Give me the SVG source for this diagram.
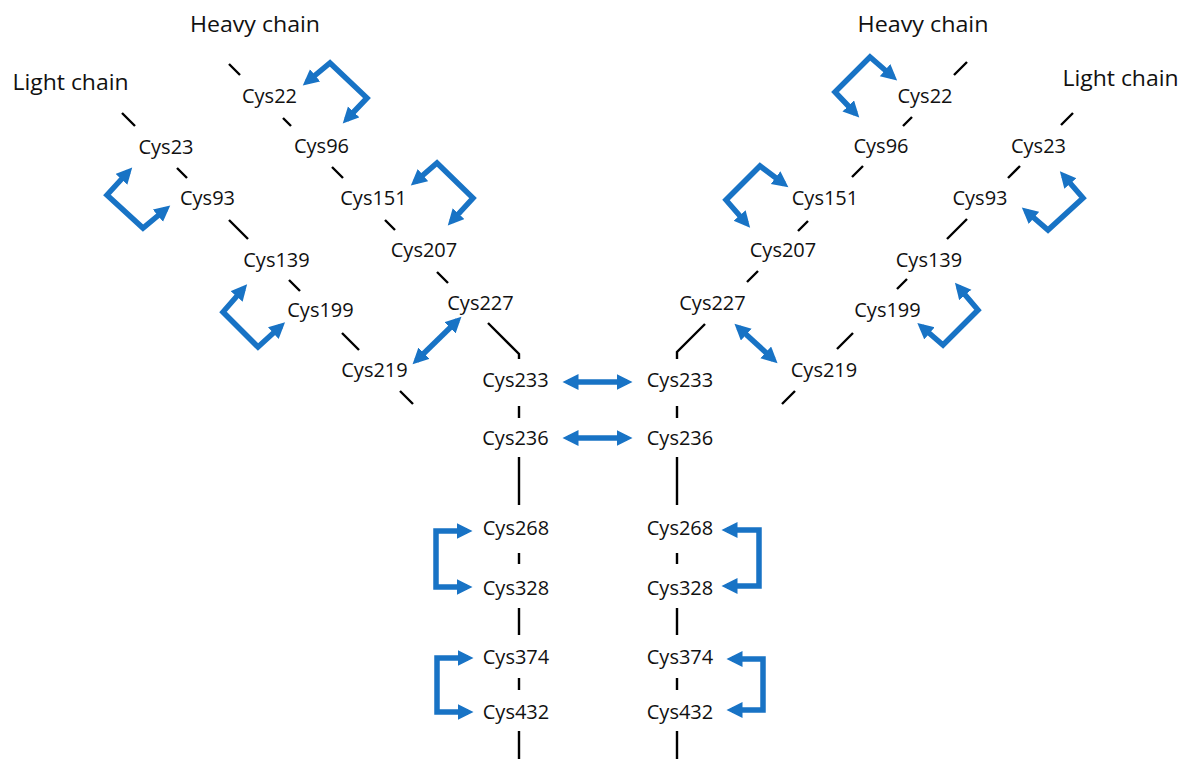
<svg xmlns="http://www.w3.org/2000/svg" width="1183" height="759" viewBox="0 0 1183 759">
  <style>
    .lbl { font-family: "Open Sans", "Liberation Sans", sans-serif; font-size: 20px; fill: #111; text-anchor: middle; }
    .hdr { font-family: "Open Sans", "Liberation Sans", sans-serif; font-size: 21px; fill: #111; text-anchor: middle; }
    .chain { stroke: #000; stroke-width: 2.4; fill: none; }
    .bond { stroke: #1873c5; stroke-width: 5.5; fill: none; stroke-linejoin: miter; marker-start: url(#ah); marker-end: url(#ah); }
  </style>
  <defs>
    <marker id="ah" markerUnits="userSpaceOnUse" markerWidth="17" markerHeight="17" refX="10.5" refY="8" orient="auto-start-reverse" viewBox="0 0 17 17">
      <path d="M0,0 L16,8 L0,16 z" fill="#1873c5"/>
    </marker>
  </defs>
  <rect width="1183" height="759" fill="#fff"/>

  <g id="connectors">
    <!-- left heavy chain -->
    <path class="chain" d="M229,64 L240,75 M283,118 L291,126 M332,167 L343,178 M385,220 L395,230 M437,272 L448,283 M488,323 L519,354 L519,359"/>
    <!-- left light chain -->
    <path class="chain" d="M122,113 L135,126 M177,168 L187,178 M229,220 L248,239 M289,280 L300,291 M342,333 L359,350 M400,391 L413,404"/>
    <!-- left vertical -->
    <path class="chain" d="M519,406 L519,418 M519,457 L519,505 M519,553 L519,564 M519,608 L519,635 M519,678 L519,690 M519,731 L519,759"/>
    <!-- right heavy chain -->
    <path class="chain" d="M954,75 L967,62 M903,126 L912,117 M852,177 L863,166 M798,231 L808,221 M747,282 L758,271 M705,324 L677,352 L677,359"/>
    <!-- right light chain -->
    <path class="chain" d="M1061,125 L1073,113 M1008,178 L1020,166 M947,239 L967,219 M897,289 L907,279 M837,349 L853,333 M782,404 L795,391"/>
    <!-- right vertical -->
    <path class="chain" d="M677,406 L677,418 M677,457 L677,505 M677,553 L677,564 M677,608 L677,635 M677,678 L677,690 M677,731 L677,759"/>

    <!-- disulfide bonds left -->
    <path class="bond" d="M307,82 L330,63 L367,98 L346.5,119.5"/>
    <path class="bond" d="M128.5,171.5 L107,195 L143,228 L166,209"/>
    <path class="bond" d="M415,182 L437,163 L473,198 L451.5,221.5"/>
    <path class="bond" d="M243.5,288.5 L223,312 L258,347 L281,326"/>
    <path class="bond" d="M416.5,360.5 L457.5,320.5"/>
    <!-- inter-chain -->
    <path class="bond" d="M568,382 L627,382"/>
    <path class="bond" d="M568,438 L627,438"/>
    <!-- Fc left -->
    <path class="bond" d="M467,531 L436,531 L436,587 L467,587"/>
    <path class="bond" d="M468,658 L437,658 L437,712 L468,712"/>
    <!-- Fc right -->
    <path class="bond" d="M727,530 L759,530 L759,586 L727,586"/>
    <path class="bond" d="M732,659 L763,659 L763,710 L732,710"/>
    <!-- disulfide bonds right -->
    <path class="bond" d="M893,77 L870,57 L835,92 L855.5,113.5"/>
    <path class="bond" d="M784,184 L760,166 L726,200 L746.5,223.5"/>
    <path class="bond" d="M1063.5,175.5 L1083,198 L1048,230 L1026,211"/>
    <path class="bond" d="M958.5,287 L978,310 L943,345 L921.5,326.5"/>
    <path class="bond" d="M738.5,327.5 L773.5,359.5"/>
  </g>

  <g id="hc-left"><text class="hdr" x="255" y="32" textLength="130" lengthAdjust="spacingAndGlyphs">Heavy chain</text></g>
  <g id="lc-left"><text class="hdr" x="70.5" y="90" textLength="116" lengthAdjust="spacingAndGlyphs">Light chain</text></g>
  <g id="hc-right"><text class="hdr" x="923" y="32" textLength="131" lengthAdjust="spacingAndGlyphs">Heavy chain</text></g>
  <g id="lc-right"><text class="hdr" x="1120.5" y="86" textLength="116" lengthAdjust="spacingAndGlyphs">Light chain</text></g>

  <g id="L-cys22"><text class="lbl" x="269.5" y="103">Cys22</text></g>
  <g id="L-cys96"><text class="lbl" x="321.5" y="153">Cys96</text></g>
  <g id="L-cys23"><text class="lbl" x="166" y="154">Cys23</text></g>
  <g id="L-cys93"><text class="lbl" x="207.5" y="205">Cys93</text></g>
  <g id="L-cys151"><text class="lbl" x="373.5" y="205">Cys151</text></g>
  <g id="L-cys207"><text class="lbl" x="424" y="257">Cys207</text></g>
  <g id="L-cys139"><text class="lbl" x="276.5" y="267">Cys139</text></g>
  <g id="L-cys199"><text class="lbl" x="320.5" y="317">Cys199</text></g>
  <g id="L-cys227"><text class="lbl" x="480.5" y="310">Cys227</text></g>
  <g id="L-cys219"><text class="lbl" x="374.5" y="377">Cys219</text></g>
  <g id="L-cys233"><text class="lbl" x="515.5" y="387">Cys233</text></g>
  <g id="L-cys236"><text class="lbl" x="515.5" y="445">Cys236</text></g>
  <g id="L-cys268"><text class="lbl" x="516" y="535">Cys268</text></g>
  <g id="L-cys328"><text class="lbl" x="516" y="595">Cys328</text></g>
  <g id="L-cys374"><text class="lbl" x="516" y="664">Cys374</text></g>
  <g id="L-cys432"><text class="lbl" x="516" y="719">Cys432</text></g>

  <g id="R-cys22"><text class="lbl" x="925" y="103">Cys22</text></g>
  <g id="R-cys96"><text class="lbl" x="881" y="153">Cys96</text></g>
  <g id="R-cys23"><text class="lbl" x="1038.5" y="153">Cys23</text></g>
  <g id="R-cys93"><text class="lbl" x="980" y="205">Cys93</text></g>
  <g id="R-cys151"><text class="lbl" x="825" y="205">Cys151</text></g>
  <g id="R-cys207"><text class="lbl" x="783" y="257">Cys207</text></g>
  <g id="R-cys139"><text class="lbl" x="929" y="267">Cys139</text></g>
  <g id="R-cys199"><text class="lbl" x="887.5" y="317">Cys199</text></g>
  <g id="R-cys227"><text class="lbl" x="712.5" y="310">Cys227</text></g>
  <g id="R-cys219"><text class="lbl" x="824" y="377">Cys219</text></g>
  <g id="R-cys233"><text class="lbl" x="680" y="387">Cys233</text></g>
  <g id="R-cys236"><text class="lbl" x="680" y="445">Cys236</text></g>
  <g id="R-cys268"><text class="lbl" x="680" y="535">Cys268</text></g>
  <g id="R-cys328"><text class="lbl" x="680" y="595">Cys328</text></g>
  <g id="R-cys374"><text class="lbl" x="680" y="664">Cys374</text></g>
  <g id="R-cys432"><text class="lbl" x="680" y="719">Cys432</text></g>
</svg>
